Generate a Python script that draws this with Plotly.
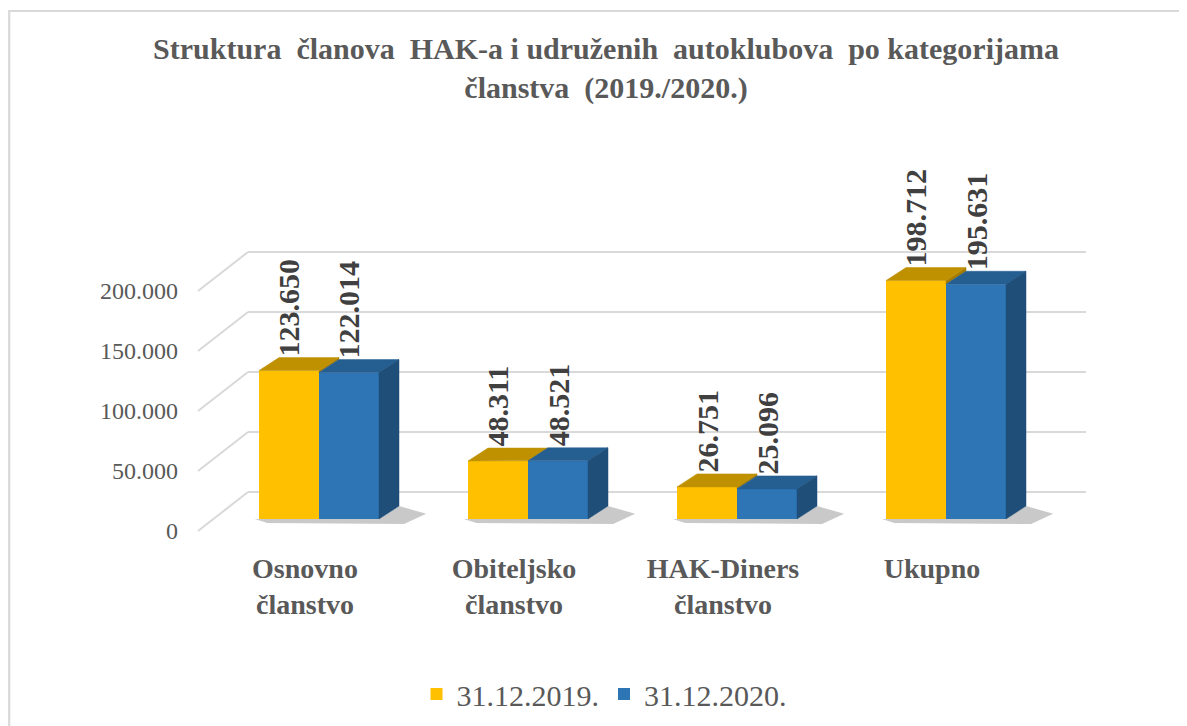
import plotly.graph_objects as go

# ---------------- data ----------------
CATEGORIES = ["Osnovno<br>članstvo", "Obiteljsko<br>članstvo", "HAK-Diners<br>članstvo", "Ukupno"]
SERIES_NAMES = ["31.12.2019.", "31.12.2020."]
VALUES_2019 = [123650, 48311, 26751, 198712]
VALUES_2020 = [122014, 48521, 25096, 195631]
Y_TICKS = [0, 50000, 100000, 150000, 200000]
Y_TICK_LABELS = ["0", "50.000", "100.000", "150.000", "200.000"]
TITLE = "Struktura  članova  HAK-a i udruženih  autoklubova  po kategorijama<br>članstva  (2019./2020.)"

# ---------------- styling / geometry ----------------
OFF = 7                      # page body margin compensation
W, H = 1187 - OFF, 726 - OFF

def S(px):                   # screen px -> figure px
    return px - OFF

PL, PR, PT, PB = S(190), S(1100), S(150), S(540)     # plot area in figure px
X0_PX, PX_PER_CAT = S(318), 209
Y0_PX, PX_PER_UNIT = S(530), 60 / 50000

def xd(screen_px):
    return (S(screen_px) - X0_PX) / PX_PER_CAT

def yd(dpx):
    return dpx / PX_PER_UNIT

FONT = "Liberation Serif, Times New Roman, serif"
GREY = "#595959"
C19, C20 = "#FFC000", "#2E75B6"
C19_TOP, C19_SIDE = "#BF9000", "#A67C00"
C20_TOP, C20_SIDE = "#255E91", "#1F4E79"
GRID = "#D9D9D9"

BAR_W = 60 / PX_PER_CAT
BASE = yd(12)
DX, DY = 20 / PX_PER_CAT, yd(13)
FLOOR_X0 = xd(197)
WALL_DX, WALL_DY = 50 / PX_PER_CAT, yd(39)
WALL_X1 = xd(1085)
LABEL_SHIFT = 14 / PX_PER_CAT

def fmt(v):
    return f"{v:,}".replace(",", ".")

fig = go.Figure()

# floor shadows
for i in range(len(CATEGORIES)):
    x0, x2 = i - BAR_W, i + BAR_W
    sx = [x0 - 0.02, x2, x2 + DX, x2 + DX + 0.13, x2 + 0.12, x0 + 0.04, x0 - 0.02]
    sy = [BASE, BASE, BASE + DY, BASE + DY * 0.4, BASE - yd(5), BASE - yd(4), BASE]
    fig.add_trace(go.Scatter(x=sx, y=sy, fill="toself", mode="lines",
                             line=dict(width=0), fillcolor="rgba(60,60,60,0.28)",
                             hoverinfo="skip", showlegend=False))

# front faces
fig.add_trace(go.Bar(x=list(range(len(CATEGORIES))), y=VALUES_2019, base=BASE,
                     name=SERIES_NAMES[0], marker=dict(color=C19, line=dict(width=0))))
fig.add_trace(go.Bar(x=list(range(len(CATEGORIES))), y=VALUES_2020, base=BASE,
                     name=SERIES_NAMES[1], marker=dict(color=C20, line=dict(width=0))))

def poly(pts, color):
    fig.add_trace(go.Scatter(x=[p[0] for p in pts] + [pts[0][0]],
                             y=[p[1] for p in pts] + [pts[0][1]],
                             fill="toself", mode="lines", line=dict(width=0.5, color=color),
                             fillcolor=color, hoverinfo="skip", showlegend=False))

annotations = []
for i, (v1, v2) in enumerate(zip(VALUES_2019, VALUES_2020)):
    x0, x1, x2 = i - BAR_W, i, i + BAR_W
    t1, t2 = BASE + v1, BASE + v2
    if t1 > t2:
        poly([(x1, t2), (x1 + DX, t2 + DY), (x1 + DX, t1 + DY), (x1, t1)], C19_SIDE)
    pts = [(x0, t1), (x1, t1)]
    if t2 > t1:
        tc = min(t2, t1 + DY)
        pts += [(x1, tc), (x1 + DX * (tc - t1) / DY, tc)]
    pts += [(x1 + DX, t1 + DY), (x0 + DX, t1 + DY)]
    poly(pts, C19_TOP)
    poly([(x1, t2), (x2, t2), (x2 + DX, t2 + DY), (x1 + DX, t2 + DY)], C20_TOP)
    poly([(x2, BASE), (x2 + DX, BASE + DY), (x2 + DX, t2 + DY), (x2, t2)], C20_SIDE)
    for xc, t, v in ((i - BAR_W / 2, t1, v1), (i + BAR_W / 2, t2, v2)):
        annotations.append(dict(x=xc, y=t + DY, xref="x", yref="y", text=fmt(v),
                                textangle=-90, showarrow=False, xanchor="center",
                                yanchor="bottom", yshift=-1,
                                font=dict(family=FONT, size=30, color="#404040", weight="bold")))

shapes = []
for v in Y_TICKS:
    shapes.append(dict(type="line", xref="x", yref="y", layer="below",
                       x0=FLOOR_X0, y0=v, x1=FLOOR_X0 + WALL_DX, y1=v + WALL_DY,
                       line=dict(color=GRID, width=2)))
    shapes.append(dict(type="line", xref="x", yref="y", layer="below",
                       x0=FLOOR_X0 + WALL_DX, y0=v + WALL_DY, x1=WALL_X1, y1=v + WALL_DY,
                       line=dict(color=GRID, width=2)))
pw, ph = PR - PL, PB - PT
shapes.append(dict(type="rect", xref="paper", yref="paper", layer="below",
                   x0=(1.2 - PL) / pw, x1=(S(1215) - PL) / pw,
                   y0=(PB - S(760)) / ph, y1=(PB - S(10)) / ph,
                   line=dict(color=GRID, width=2.2)))

fig.update_layout(
    width=W, height=H,
    margin=dict(l=PL, r=W - PR, t=PT, b=H - PB, autoexpand=False),
    paper_bgcolor="white", plot_bgcolor="white",
    barmode="group", bargap=1 - 2 * BAR_W, bargroupgap=0,
    title=dict(text=TITLE, x=S(605) / W, xref="container", xanchor="center",
               y=1 - S(58) / H, yref="container", yanchor="top",
               font=dict(family=FONT, size=30, color=GREY, weight="bold")),
    xaxis=dict(range=[xd(190), xd(1100)], tickvals=[i - LABEL_SHIFT for i in range(len(CATEGORIES))],
               ticktext=CATEGORIES, showgrid=False, zeroline=False, showline=False, ticks="",
               ticklabelstandoff=8,
               tickfont=dict(family=FONT, size=28, color=GREY, weight="bold")),
    yaxis=dict(range=[-(PB - Y0_PX) / PX_PER_UNIT, (Y0_PX - PT) / PX_PER_UNIT],
               tickvals=Y_TICKS, ticktext=Y_TICK_LABELS, showgrid=False, zeroline=False,
               showline=False, ticks="", ticklabelstandoff=12,
               tickfont=dict(family=FONT, size=24, color=GREY)),
    legend=dict(orientation="h", x=(S(603) - PL) / pw, xanchor="center",
                y=(PB - S(693)) / ph, yanchor="middle",
                font=dict(family=FONT, size=30, color=GREY), itemwidth=30,
                traceorder="normal"),
    shapes=shapes, annotations=annotations,
    showlegend=True,
)

fig.write_html("out.html")
